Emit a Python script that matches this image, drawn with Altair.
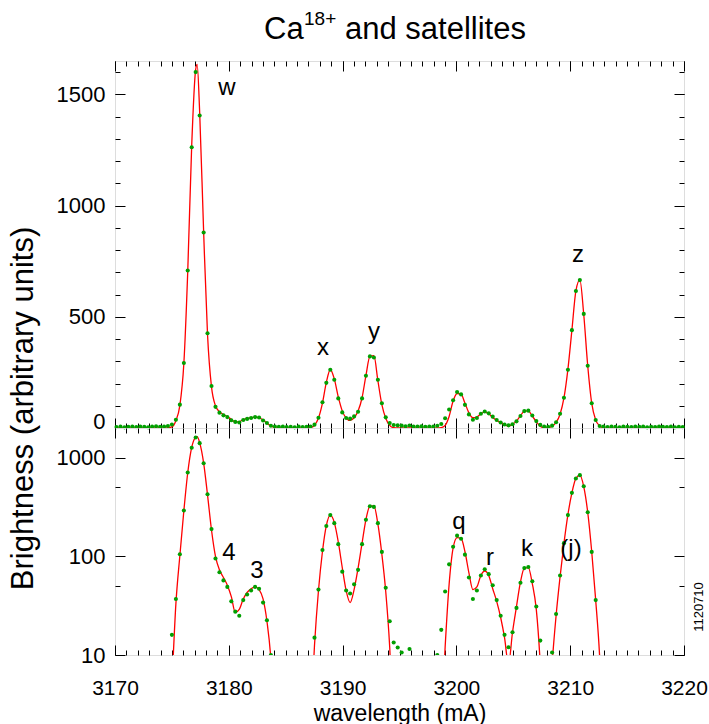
import altair as alt
import pandas as pd

# ---------------- data ----------------
WAVELENGTH = [
    3170.13, 3170.48, 3170.83, 3171.17, 3171.52, 3171.87, 3172.22, 3172.57, 3172.91, 3173.26,
    3173.61, 3173.96, 3174.31, 3174.65, 3175.00, 3175.35, 3175.70, 3176.05, 3176.39, 3176.74,
    3177.09, 3177.44, 3177.79, 3178.13, 3178.48, 3178.83, 3179.18, 3179.53, 3179.87, 3180.22,
    3180.57, 3180.92, 3181.27, 3181.61, 3181.96, 3182.31, 3182.66, 3183.01, 3183.35, 3183.70,
    3184.05, 3184.40, 3184.75, 3185.09, 3185.44, 3185.79, 3186.14, 3186.49, 3186.83, 3187.18,
    3187.53, 3187.88, 3188.23, 3188.57, 3188.92, 3189.27, 3189.62, 3189.97, 3190.31, 3190.66,
    3191.01, 3191.36, 3191.71, 3192.05, 3192.40, 3192.75, 3193.10, 3193.45, 3193.79, 3194.14,
    3194.49, 3194.84, 3195.19, 3195.53, 3195.88, 3196.23, 3196.58, 3196.93, 3197.27, 3197.62,
    3197.97, 3198.32, 3198.67, 3199.01, 3199.36, 3199.71, 3200.06, 3200.41, 3200.75, 3201.10,
    3201.45, 3201.80, 3202.15, 3202.49, 3202.84, 3203.19, 3203.54, 3203.89, 3204.23, 3204.58,
    3204.93, 3205.28, 3205.63, 3205.97, 3206.32, 3206.67, 3207.02, 3207.37, 3207.71, 3208.06,
    3208.41, 3208.76, 3209.11, 3209.45, 3209.80, 3210.15, 3210.50, 3210.85, 3211.19, 3211.54,
    3211.89, 3212.24, 3212.59, 3212.93, 3213.28, 3213.63, 3213.98, 3214.33, 3214.67, 3215.02,
    3215.37, 3215.72, 3216.07, 3216.41, 3216.76, 3217.11, 3217.46, 3217.81, 3218.15, 3218.50,
    3218.85, 3219.20, 3219.55, 3219.89,
]

BRIGHTNESS = [
    4, 6, 3, 5, 7, 4, 6, 5, 3, 6,
    8, 5, 7, 9, 16, 37, 105, 292, 708, 1262,
    1600, 1405, 879, 426, 189, 95, 69, 57, 49, 35,
    27.5, 25, 36, 41, 45, 49, 47, 34, 22.5, 10,
    7, 5, 6, 4, 5, 3, 6, 4, 5, 7,
    15, 46, 116, 203, 262, 217, 133, 70, 45, 42,
    52, 73, 133, 235, 322, 317, 217, 111, 48, 22,
    13.4, 11.9, 10.6, 8, 11.5, 7, 6, 8, 5, 7,
    6, 10, 18, 44, 83, 125, 162, 151, 104, 61,
    37, 45, 64, 74, 66, 51, 36, 25, 16, 12,
    17, 30, 54, 76, 78, 56, 31, 14, 6, 5,
    10.6, 26, 64, 136, 262, 440, 616, 665, 513, 280,
    111, 36, 9, 6, 4, 7, 5, 3, 6, 5,
    4, 7, 5, 6, 3, 5, 4, 6, 5, 4,
    6, 3, 5, 4,
]

FIT_BRIGHTNESS = [
    0.3, 0.3, 0.3, 0.3, 0.3, 0.3, 0.3, 0.3, 0.3, 0.3,
    0.3, 0.3, 0.3, 0.8, 5, 33, 102, 290, 700, 1270,
    1612, 1420, 880, 420, 185, 100, 73, 61, 51, 39,
    27, 29, 37, 43, 47, 49, 46, 37, 22, 9,
    1.5, 0.3, 0.3, 0.3, 0.3, 0.3, 0.3, 0.3, 0.3, 2,
    12.5, 45, 112, 205, 262, 221, 140, 77, 45, 34,
    46, 76, 136, 236, 322, 325, 213, 105, 44, 12,
    1.5, 0.3, 0.3, 0.3, 0.3, 0.3, 0.3, 0.3, 0.3, 0.3,
    0.3, 0.3, 2, 12, 52, 121, 155, 152, 112, 68,
    46, 49, 64, 71, 64, 47, 35, 24, 15, 8,
    17, 31, 55, 76, 77, 53, 29, 8, 1, 1.5,
    8, 25, 62, 135, 265, 440, 617, 666, 510, 280,
    112, 36, 9.5, 1, 0.3, 0.3, 0.3, 0.3, 0.3, 0.3,
    0.3, 0.3, 0.3, 0.3, 0.3, 0.3, 0.3, 0.3, 0.3, 0.3,
    0.3, 0.3, 0.3, 0.3,
]
FIT_PEAK_WAVELENGTH = [3177.22]
FIT_PEAK_BRIGHTNESS = [1635]

X_MAJOR = [3170, 3180, 3190, 3200, 3210, 3220]
X_MINOR = list(range(3170, 3221))
TOP_Y_MAJOR = [0, 500, 1000, 1500]
TOP_Y_MINOR = list(range(0, 1700, 100))
LOG_Y_MAJOR = [10, 100, 1000]
LOG_Y_MINOR = [50, 500]

TOP_LABELS = ["w", "x", "y", "z"]
TOP_LABEL_X = [3179.84, 3188.28, 3192.76, 3210.69]
TOP_LABEL_Y = [1528, 360, 432, 778]
LOG_LABELS = ["4", "3", "q", "r", "k", "(j)"]
LOG_LABEL_X = [3180.02, 3182.48, 3200.23, 3202.95, 3206.2, 3210.07]
LOG_LABEL_Y = [107, 70.5, 221, 95.5, 118, 118]

TITLE_PARTS = ["Ca", "18+", "and satellites"]
Y_TITLE = "Brightness (arbitrary units)"
X_TITLE = "wavelength (mA)"
STAMP = "1120710"

# ---------------- styling ----------------
W = 569
H_TOP = 367
H_LOG = 227
FONT = "Liberation Sans"
RED = "#ff0000"
GREEN = "#00a000"

data_df = pd.DataFrame({"wavelength": WAVELENGTH, "brightness": BRIGHTNESS})
fit_df = pd.DataFrame({
    "wavelength": WAVELENGTH + FIT_PEAK_WAVELENGTH,
    "brightness": FIT_BRIGHTNESS + FIT_PEAK_BRIGHTNESS,
}).sort_values("wavelength").reset_index(drop=True)
top_lab_df = pd.DataFrame({"wavelength": TOP_LABEL_X, "brightness": TOP_LABEL_Y, "label": TOP_LABELS})
log_lab_df = pd.DataFrame({"wavelength": LOG_LABEL_X, "brightness": LOG_LABEL_Y, "label": LOG_LABELS})

XS = alt.Scale(domain=[3170, 3220], nice=False, zero=False)


def tick_axis(orient, offset, values, size):
    return alt.Axis(orient=orient, offset=offset, values=values, ticks=True,
                    tickSize=size, tickColor="black", tickWidth=1, labels=False,
                    domain=False, grid=False, title=None)


def label_axis_y(values, **extra):
    return alt.Axis(orient="left", values=values, format="d", ticks=False, tickSize=0,
                    domain=False, grid=False, labelFont=FONT, labelFontSize=22,
                    labelColor="black", labelPadding=10, labelOverlap=False,
                    labelFlush=False, **extra)


def text_piece(text, x, y, size, **kw):
    return alt.Chart(pd.DataFrame({"t": [text]})).mark_text(
        font=FONT, fontSize=size, color="black", **kw
    ).encode(x=alt.value(x), y=alt.value(y), text="t:N")


def panel(ys, height, y_major, y_minor, y_label_axis, x_label_axis, labels_df, clip_points, extras):
    x_axes = [
        tick_axis("top", -height, X_MAJOR, 10),
        tick_axis("top", -height, X_MINOR, 5),
        tick_axis("bottom", -height, X_MAJOR, 10),
        tick_axis("bottom", -height, X_MINOR, 5),
    ]
    if x_label_axis is not None:
        x_axes.append(x_label_axis)
    y_axes = [
        y_label_axis,
        tick_axis("right", -W, y_major, 10),
        tick_axis("right", -W, y_minor, 5),
        tick_axis("left", -W, y_major, 10),
        tick_axis("left", -W, y_minor, 5),
    ]
    layers = []
    for k in range(max(len(x_axes), len(y_axes))):
        xa = x_axes[k] if k < len(x_axes) else None
        ya = y_axes[k] if k < len(y_axes) else None
        layers.append(
            alt.Chart(data_df).mark_point(opacity=0, size=1, clip=True).encode(
                x=alt.X("wavelength:Q", scale=XS, axis=xa),
                y=alt.Y("brightness:Q", scale=ys, axis=ya),
            )
        )
    line = alt.Chart(fit_df).mark_line(color=RED, strokeWidth=1.3, interpolate="monotone", clip=True).encode(
        x=alt.X("wavelength:Q", scale=XS, axis=None),
        y=alt.Y("brightness:Q", scale=ys, axis=None),
    )
    pts = alt.Chart(data_df).mark_circle(color=GREEN, size=17, opacity=1, clip=clip_points).encode(
        x=alt.X("wavelength:Q", scale=XS, axis=None),
        y=alt.Y("brightness:Q", scale=ys, axis=None),
    )
    labs = alt.Chart(labels_df).mark_text(font=FONT, fontSize=24, color="black", baseline="middle").encode(
        x=alt.X("wavelength:Q", scale=XS, axis=None),
        y=alt.Y("brightness:Q", scale=ys, axis=None),
        text="label:N",
    )
    return alt.layer(*layers, line, pts, labs, *extras).resolve_axis(
        x="independent", y="independent"
    ).properties(width=W, height=height)


ys_top = alt.Scale(domain=[0, 1650], nice=False, zero=False)
ys_log = alt.Scale(type="log", domain=[10, 2000], nice=False)

top_label_axis = label_axis_y(
    TOP_Y_MAJOR,
    labelBaseline={"condition": {"test": "datum.value == 0", "value": "alphabetic"}, "value": "middle"},
    title=Y_TITLE, titleFont=FONT, titleFontSize=31, titleFontWeight="normal", titleColor="black",
    titleAngle=270, titleX=-92, titleY=347, titleAlign="center", titleBaseline="middle",
)
log_label_axis = label_axis_y(LOG_Y_MAJOR, title=None)
x_label_axis = alt.Axis(
    orient="bottom", values=X_MAJOR, format="d", ticks=False, tickSize=0, domain=False, grid=False,
    labelFont=FONT, labelFontSize=21, labelColor="black", labelPadding=22, labelFlush=False,
    labelOverlap=False, title=X_TITLE, titleFont=FONT, titleFontSize=23, titleFontWeight="normal",
    titleColor="black", titleY=58, titleBaseline="middle",
)

anchor = alt.Chart(pd.DataFrame({"a": [0]})).mark_point(size=1, opacity=0).encode(
    x=alt.value(-114), y=alt.value(-60)
)
top_extras = [
    anchor,
    text_piece(TITLE_PARTS[0], 149, -22, 31, align="left", baseline="alphabetic"),
    text_piece(TITLE_PARTS[1], 189, -36, 19, align="left", baseline="alphabetic"),
    text_piece(TITLE_PARTS[2], 230, -22, 31, align="left", baseline="alphabetic"),
]
log_extras = [
    text_piece(STAMP, 584, 179, 13, align="center", baseline="middle", angle=270),
]

top = panel(ys_top, H_TOP, TOP_Y_MAJOR, TOP_Y_MINOR, top_label_axis, None, top_lab_df, False, top_extras)
bottom = panel(ys_log, H_LOG, LOG_Y_MAJOR, LOG_Y_MINOR, log_label_axis, x_label_axis, log_lab_df, True, log_extras)

chart = alt.vconcat(top, bottom, spacing=0, bounds="flush").properties(
    padding={"left": 0, "top": 0, "right": 0, "bottom": 0}
).configure_view(stroke="black", strokeWidth=1).configure(font=FONT)

chart.save("out.html", embed_options={"renderer": "svg", "actions": False})
